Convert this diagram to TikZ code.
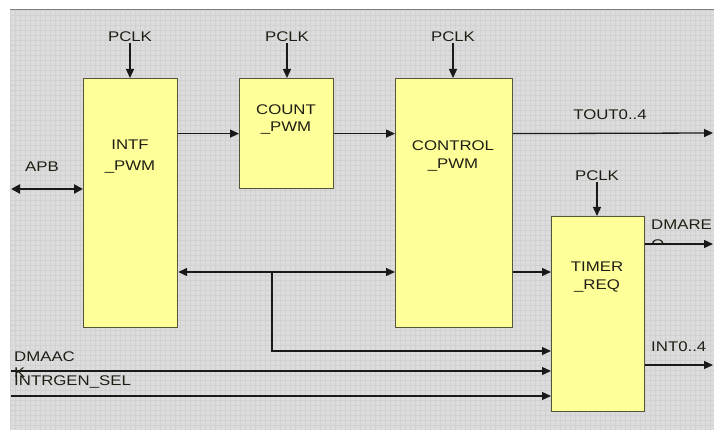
\documentclass[tikz,border=0pt]{standalone}
\usepackage{fontspec}
\setmainfont{Liberation Sans}[FakeStretch=1.2]
\usetikzlibrary{arrows.meta,positioning}
\definecolor{BlockFill}{RGB}{255,255,153}
\definecolor{BlockEdge}{RGB}{85,85,55}
\definecolor{GridBack}{RGB}{220,220,220}
\definecolor{GridLine}{RGB}{209,209,209}
\definecolor{WireDark}{RGB}{25,25,25}
\definecolor{TextDark}{RGB}{30,30,20}

\begin{document}
\begin{tikzpicture}[x=1pt, y=-1pt,
    blk/.style={draw=BlockEdge, fill=BlockFill, line width=1.2pt, inner sep=0pt, anchor=north west},
    lbl/.style={text=TextDark, font=\fontsize{14}{18}\selectfont, inner sep=1pt, align=center},
    sig/.style={-{Triangle[length=9pt,width=8pt]}, line width=1.3pt, draw=WireDark}
  ]
    \useasboundingbox (0,0) rectangle (714,430);
    \fill[GridBack] (10,9) rectangle (714,430);
    \draw[GridLine, line width=0.3pt, step=5pt] (10,9) grid (714,430);
    \draw[gray, line width=0.8pt] (10,9) -- (714,9);

    \node[blk, minimum width=94pt, minimum height=249pt] (intf) at (83,78) {};
    \node[blk, minimum width=94pt, minimum height=110pt] (count) at (239,78) {};
    \node[blk, minimum width=117pt, minimum height=249pt] (control) at (395,78) {};
    \node[blk, minimum width=93pt, minimum height=195pt] (timer) at (551,216) {};

    \node[lbl, font=\fontsize{14}{21}\selectfont] (intftxt) at (130,157) {INTF\\\_PWM};
    \node[lbl, font=\fontsize{14}{17}\selectfont] (counttxt) at (286,120) {COUNT\\\_PWM};
    \node[lbl] (controltxt) at (453,156) {CONTROL\\\_PWM};
    \node[lbl] (timertxt) at (597,277) {TIMER\\\_REQ};

    \node[lbl] (clkintf) at (130,37) {PCLK};
    \node[lbl] (clkcount) at (287,37) {PCLK};
    \node[lbl] (clkcontrol) at (453,37) {PCLK};
    \node[lbl] (clktimer) at (597,176) {PCLK};
    \draw[sig] (clkintf.south) -- (clkintf.south |- intf.north);
    \draw[sig] (clkcount.south) -- (clkcount.south |- count.north);
    \draw[sig] (clkcontrol.south) -- (clkcontrol.south |- control.north);
    \draw[sig] (clktimer.south) -- (clktimer.south |- timer.north);

    \coordinate (apb) at (11,189);
    \coordinate (tout) at (713,133);
    \coordinate (bus) at (272,272);
    \coordinate (rowa) at (272,351);
    \coordinate (dmaack) at (11,371);
    \coordinate (intrgen) at (11,396);
    \coordinate (dmareq) at (713,244);
    \coordinate (intout) at (713,365);

    \draw[sig] (count.west -| intf.east) -- (count.west);
    \draw[sig] (count.east) -- (count.east -| control.west);
    \draw[sig] (count.east -| control.east) -- (tout);
    \draw[sig, {Triangle[length=9pt,width=9pt]}-{Triangle[length=9pt,width=9pt]}, line width=2.6pt] (apb) -- (apb -| intf.west);
    \draw[sig, {Triangle[length=9pt,width=8pt]}-{Triangle[length=9pt,width=8pt]}] (bus -| intf.east) -- (bus -| control.west);
    \draw[sig] (bus) -- (rowa) -- (rowa -| timer.west);
    \draw[sig] (bus -| control.east) -- (bus -| timer.west);
    \draw[sig] (dmaack) -- (dmaack -| timer.west);
    \draw[sig] (intrgen) -- (intrgen -| timer.west);
    \draw[sig] (dmareq -| timer.east) -- (dmareq);
    \draw[sig] (intout -| timer.east) -- (intout);

    \node[lbl] (toutlbl) at (610,115) {TOUT0..4};
    \node[lbl] (apblbl) at (42,167) {APB};
    \node[lbl, anchor=west, align=left, font=\fontsize{14}{16}\selectfont] (dmaacklbl) at (13,365) {DMAAC\\K};
    \node[lbl, anchor=west] (intrgenlbl) at (13,382) {INTRGEN\_SEL};
    \node[lbl, anchor=west] (dmareqlbl) at (650,225) {DMARE};
    \node[lbl, anchor=west] (intlbl) at (650,347) {INT0..4};
    \begin{scope}
      \clip (645,230) rectangle (714,243.4);
      \node[lbl] (dmareqq) at (658,246) {Q};
    \end{scope}
  \end{tikzpicture}
\end{document}
